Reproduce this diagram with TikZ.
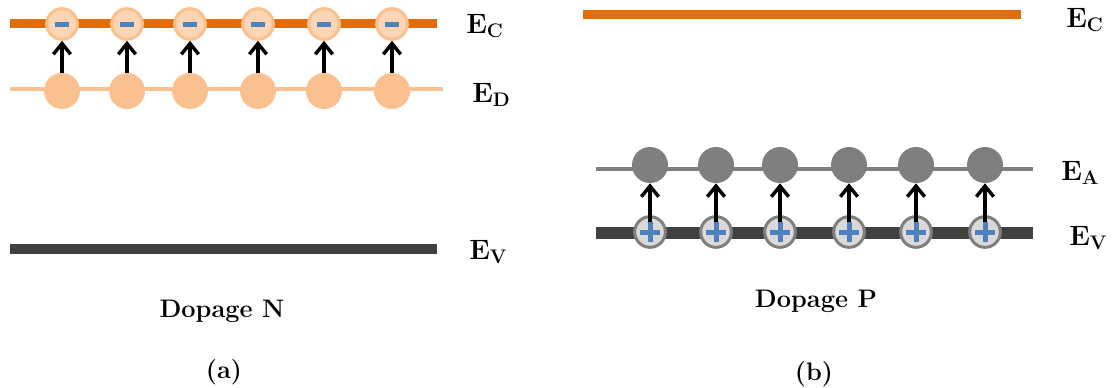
\documentclass[tikz,border=0pt]{standalone}
\usepackage{xcolor}
\usetikzlibrary{arrows.meta}

\definecolor{bandorange}{HTML}{E36C09}
\definecolor{donor}{HTML}{FAC090}
\definecolor{electron}{HTML}{FCD5B5}
\definecolor{acceptor}{HTML}{7F7F7F}
\definecolor{hole}{HTML}{D9D9D9}
\definecolor{valence}{HTML}{404040}
\definecolor{signblue}{HTML}{4F81BD}

\tikzset{
	donorball/.style={circle, fill=donor, inner sep=0pt, minimum size=27pt},
	electronball/.style={circle, fill=electron, draw=donor, line width=2.25pt, inner sep=0pt, minimum size=23pt},
	acceptorball/.style={circle, fill=acceptor, inner sep=0pt, minimum size=27pt},
	holeball/.style={circle, fill=hole, draw=acceptor, line width=2.25pt, inner sep=0pt, minimum size=23pt},
	uparrow/.style={line width=2.6pt, -{Straight Barb[length=8pt, width=13pt]}},
	signbar/.style={signblue, line width=3.75pt},
	levellabel/.style={anchor=base west, inner sep=0pt, font=\fontsize{21}{25}\selectfont\bfseries},
	caption/.style={anchor=base, inner sep=0pt, font=\fontsize{19}{23}\selectfont\bfseries}
}

\begin{document}
\begin{tikzpicture}[x=0.75pt, y=-0.75pt]
	\useasboundingbox (0,0) rectangle (1114,387);

	% (a) dopage N
	\draw[bandorange, line width=6.75pt] (10,23) -- (437,23);
	\draw[donor, line width=3pt] (10,89) -- (443,89);
	\draw[valence, line width=7.5pt] (10,249) -- (437,249);
	\foreach \x [count=\i] in {62,127,190,258,324,392}
	{
		\node[donorball] (d\i) at (\x,91) {};
		\node[electronball] (c\i) at (\x,24) {};
		\draw[signbar] (c\i.center) ++(-7,0) -- ++(14,0);
		\draw[uparrow] (d\i.north) -- (c\i.south);
	}
	\node[levellabel] (ecN) at (466,33) {E\textsubscript{C}};
	\node[levellabel] (edN) at (472,102) {E\textsubscript{D}};
	\node[levellabel] (evN) at (469,259) {E\textsubscript{V}};
	\node[caption] (dopN) at (222,317) {Dopage N};
	\node[caption] (capa) at (224,378) {(a)};

	% (b) dopage P
	\draw[bandorange, line width=6.75pt] (583,14) -- (1021,14);
	\draw[acceptor, line width=3pt] (596,169) -- (1033,169);
	\draw[valence, line width=8.5pt] (596,233) -- (1033,233);
	\foreach \x [count=\i] in {650,716,780,849,916,985}
	{
		\node[acceptorball] (a\i) at (\x,165) {};
		\node[holeball] (h\i) at (\x,232) {};
		\draw[uparrow] (h\i.center) -- (a\i.south);
		\draw[signbar] (h\i.center) ++(-10,0) -- ++(20,0);
		\draw[signbar] (h\i.center) ++(0,-10) -- ++(0,20);
	}
	\node[levellabel] (ecP) at (1066,27) {E\textsubscript{C}};
	\node[levellabel] (eaP) at (1061,180) {E\textsubscript{A}};
	\node[levellabel] (evP) at (1069,245) {E\textsubscript{V}};
	\node[caption] (dopP) at (816,307) {Dopage P};
	\node[caption] (capb) at (814,380) {(b)};
\end{tikzpicture}
\end{document}
